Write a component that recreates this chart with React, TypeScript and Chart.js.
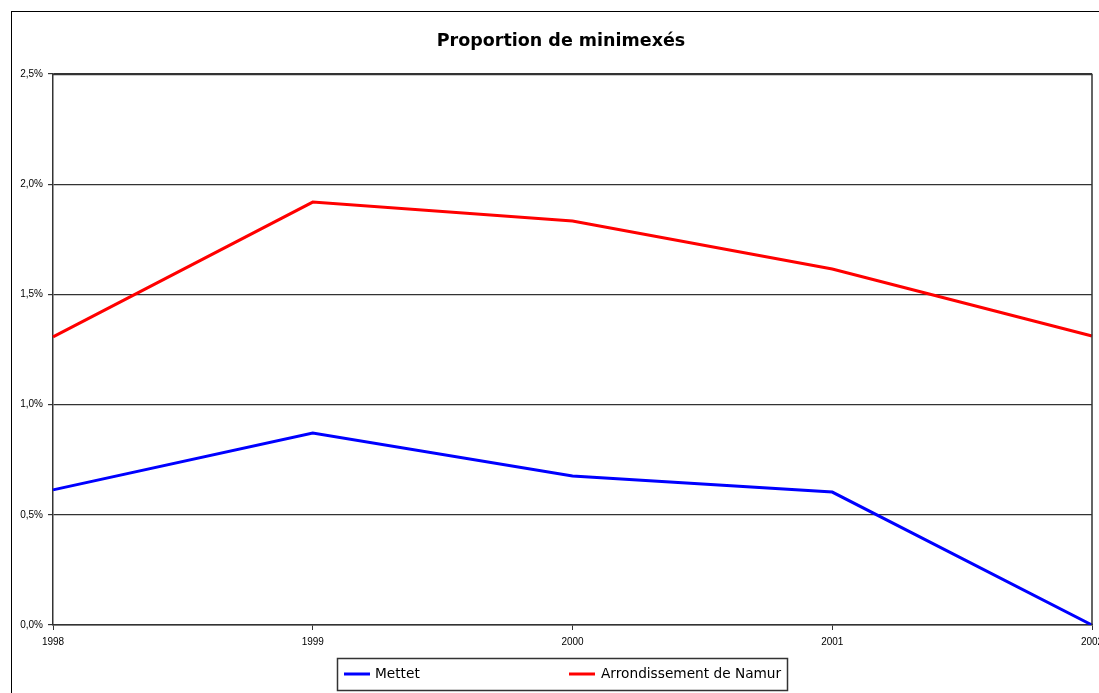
import React, { useEffect, useRef } from "react";
import { Chart, registerables } from "chart.js";

Chart.register(...registerables);

const TITLE = "Proportion de minimexés";
const YEARS = ["1998", "1999", "2000", "2001", "2002"];
const METTET = [0.613, 0.871, 0.676, 0.603, 0.0];
const NAMUR = [1.307, 1.919, 1.833, 1.615, 1.311];
const SERIES_NAMES = ["Mettet", "Arrondissement de Namur"];
const Y_MIN = 0;
const Y_MAX = 2.5;
const Y_STEP = 0.5;

const framePlugin = {
  id: "frame",
  beforeDraw(chart: any) {
    const { ctx, width, height } = chart;
    ctx.save();
    ctx.fillStyle = "#ffffff";
    ctx.fillRect(0, 0, width, height);
    ctx.strokeStyle = "#000000";
    ctx.lineWidth = 1;
    ctx.strokeRect(11.5, 11.5, width + 20, height + 20);
    ctx.fillStyle = "#000000";
    ctx.font = "bold 17.5px 'DejaVu Sans'";
    ctx.textAlign = "center";
    ctx.textBaseline = "middle";
    ctx.fillText(TITLE, 561, 41);
    ctx.restore();
  },
  afterDraw(chart: any) {
    const { ctx, chartArea } = chart;
    ctx.save();
    ctx.strokeStyle = "#333333";
    ctx.lineWidth = 1.5;
    ctx.beginPath();
    ctx.moveTo(chartArea.left, Math.round(chartArea.top) + 0.5);
    ctx.lineTo(chartArea.right, Math.round(chartArea.top) + 0.5);
    ctx.lineTo(chartArea.right, chartArea.bottom);
    ctx.stroke();

    // legend
    const bx = 337, by = 658, bw = 450, bh = 32;
    ctx.strokeStyle = "#333333";
    ctx.lineWidth = 1.5;
    ctx.strokeRect(bx + 0.5, by + 0.5, bw, bh);
    const cy = by + bh / 2;
    const items = [
      { x: 344, tx: 375, color: chart.data.datasets[0].borderColor, label: chart.data.datasets[0].label },
      { x: 569, tx: 601, color: chart.data.datasets[1].borderColor, label: chart.data.datasets[1].label },
    ];
    ctx.font = "13.7px 'DejaVu Sans'";
    ctx.textBaseline = "middle";
    ctx.textAlign = "left";
    for (const it of items) {
      ctx.strokeStyle = it.color;
      ctx.lineWidth = 3;
      ctx.beginPath();
      ctx.moveTo(it.x, cy);
      ctx.lineTo(it.x + 26, cy);
      ctx.stroke();
      ctx.fillStyle = "#000000";
      ctx.fillText(it.label, it.tx, cy + 0.5);
    }
    ctx.restore();
  },
};

export default function App() {
  const ref = useRef<HTMLCanvasElement>(null);
  useEffect(() => {
    if (!ref.current) return;
    const chart = new Chart(ref.current, {
      type: "line",
      data: {
        labels: YEARS,
        datasets: [
          {
            label: SERIES_NAMES[0],
            data: METTET,
            borderColor: "#0000ff",
            backgroundColor: "#0000ff",
            borderWidth: 3,
            pointRadius: 0,
            tension: 0,
          },
          {
            label: SERIES_NAMES[1],
            data: NAMUR,
            borderColor: "#ff0000",
            backgroundColor: "#ff0000",
            borderWidth: 3,
            pointRadius: 0,
            tension: 0,
          },
        ],
      },
      options: {
        responsive: false,
        animation: false,
        layout: { padding: { left: 0, top: 74, right: 7, bottom: 0 } },
        plugins: {
          legend: { display: false },
          title: { display: false },
          tooltip: { enabled: false },
        },
        scales: {
          x: {
            type: "category",
            offset: false,
            grid: {
              display: true,
              drawOnChartArea: false,
              drawTicks: true,
              tickLength: 5,
              color: "#333333",
            },
            border: { display: true, color: "#333333", width: 1.5 },
            ticks: {
              color: "#000000",
              font: { family: "'Liberation Sans'", size: 10 },
              padding: 6,
              maxRotation: 0,
              autoSkip: false,
            },
            afterFit(scale: any) {
              scale.height = 68;
              scale.paddingLeft = 0;
              scale.paddingRight = 0;
            },
          },
          y: {
            min: Y_MIN,
            max: Y_MAX,
            ticks: {
              stepSize: Y_STEP,
              color: "#000000",
              font: { family: "'Liberation Sans'", size: 10 },
              padding: 5,
              callback: (v: any) => Number(v).toFixed(1).replace(".", ",") + "%",
            },
            grid: {
              color: "#333333",
              lineWidth: 1.2,
              tickLength: 5,
            },
            border: { display: true, color: "#333333", width: 1.5 },
            afterFit(scale: any) {
              scale.width = 53;
            },
          },
        },
      },
      plugins: [framePlugin],
    });
    return () => chart.destroy();
  }, []);
  return (
    <div style={{ position: "absolute", left: 0, top: 0, width: 1099, height: 693 }}>
      <canvas ref={ref} width={1099} height={693} style={{ display: "block", width: 1099, height: 693 }} />
    </div>
  );
}
